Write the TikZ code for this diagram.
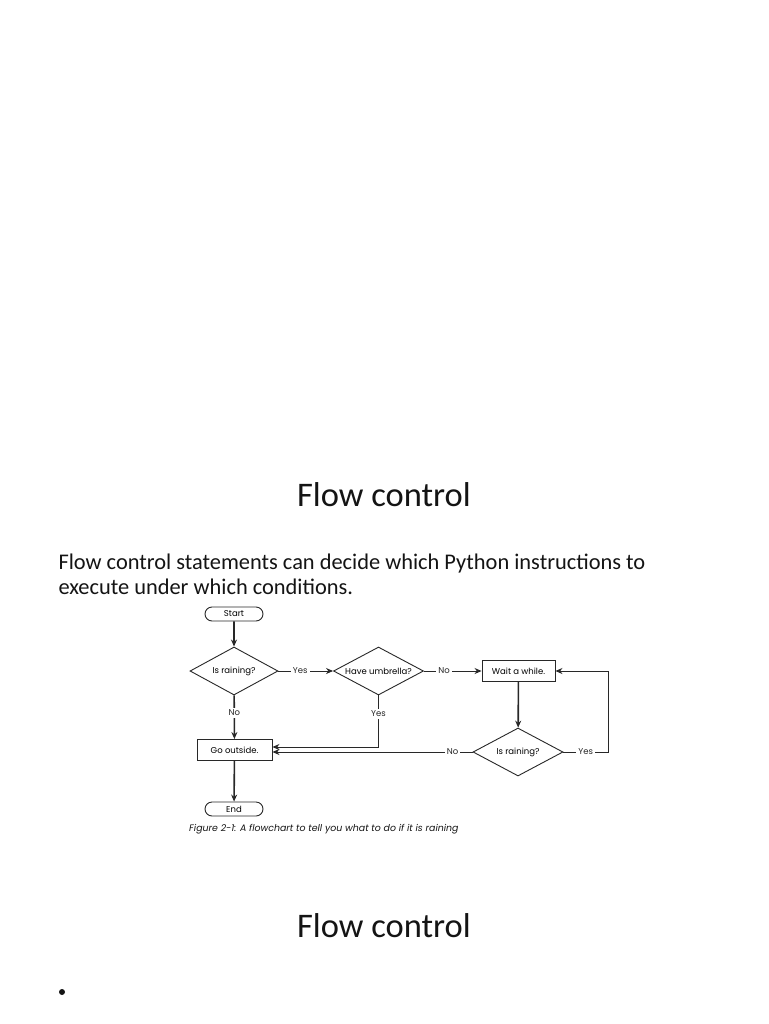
\documentclass[tikz,border=0pt]{standalone}
\usepackage{fontspec}
\setmainfont{Carlito}
\newfontfamily\chartfont{Poppins}
\usetikzlibrary{arrows.meta,positioning,calc,shapes.geometric,shapes.misc}
\definecolor{inkcol}{RGB}{20,20,20}
\definecolor{linecol}{RGB}{40,40,40}

\begin{document}
\begin{tikzpicture}[
    x=1pt, y=-1pt,
    >={Stealth[length=7pt,width=6pt]},
    pill/.style={rounded rectangle, draw=linecol, line width=0.9pt, minimum width=58pt, minimum height=14pt, inner sep=0pt, font=\chartfont\fontsize{8.5}{9}\selectfont},
    decide/.style={diamond, draw=linecol, line width=0.9pt, minimum width=88pt, minimum height=48pt, inner sep=0pt, aspect=2, font=\chartfont\fontsize{8.5}{9}\selectfont},
    stepbox/.style={rectangle, draw=linecol, line width=0.9pt, minimum height=21pt, inner sep=0pt, font=\chartfont\fontsize{8.5}{9}\selectfont},
    lbl/.style={fill=white, inner sep=2pt, font=\chartfont\fontsize{8.5}{9}\selectfont},
    arrow/.style={->, line width=0.9pt, linecol},
    bigarrow/.style={->, line width=1.6pt, linecol},
]
\useasboundingbox (0,0) rectangle (768,1024);
\fill[white] (0,0) rectangle (768,1024);

% slide texts
\node[font=\fontsize{34.5}{42}\selectfont, text=inkcol] (title) at (384,495) {Flow control};
\node[anchor=west, align=left, font=\fontsize{22.4}{25}\selectfont, text=inkcol] (body) at (55,574)
    {Flow control statements can decide which Python instructions to\\execute under which conditions.};

% flowchart
\node[pill] (start) at (234,614) {Start};
\node[decide] (rain) at (234,671) {Is raining?};
\node[decide, minimum width=90pt] (umb) at (378.5,671) {Have umbrella?};
\node[stepbox, minimum width=73pt] (wait) at (518.5,671) {Wait a while.};
\node[decide, minimum width=90pt] (rainb) at (518,752) {Is raining?};
\node[stepbox, minimum width=75pt] (go) at (234.5,750) {Go outside.};
\node[pill] (end) at (234,809) {End};
\coordinate (gohi) at ([yshift=3pt]go.east);
\coordinate (golo) at ([yshift=-2pt]go.east);
\coordinate (loop) at (608,752);

\draw[bigarrow] (start) -- (rain);
\draw[arrow] (rain) -- node[lbl, pos=0.4] {Yes} (umb);
\draw[arrow] (umb) -- node[lbl, pos=0.35] {No} (wait);
\draw[bigarrow] (rain) -- node[lbl, pos=0.4] {No} (go);
\draw[arrow] (umb.south) -- node[lbl, pos=0.35] {Yes} (umb.south |- gohi) -- (gohi);
\draw[bigarrow] (wait) -- (rainb);
\draw[arrow] (rainb.west) -- node[lbl, pos=0.1] {No} (golo);
\draw[arrow] (rainb.east) -- node[lbl] {Yes} (loop) |- (wait.east);
\draw[bigarrow] (go) -- (end);

\node[anchor=west, font=\chartfont\itshape\fontsize{9.4}{10}\selectfont, text=inkcol, inner sep=0pt] (caption) at (189,829)
    {Figure 2-1: A flowchart to tell you what to do if it is raining};

\node[font=\fontsize{34.5}{42}\selectfont, text=inkcol] (title2) at (384,926) {Flow control};
\node[circle, fill=inkcol, inner sep=0pt, minimum size=6pt] (bullet) at (62,992) {};
\end{tikzpicture}
\end{document}
